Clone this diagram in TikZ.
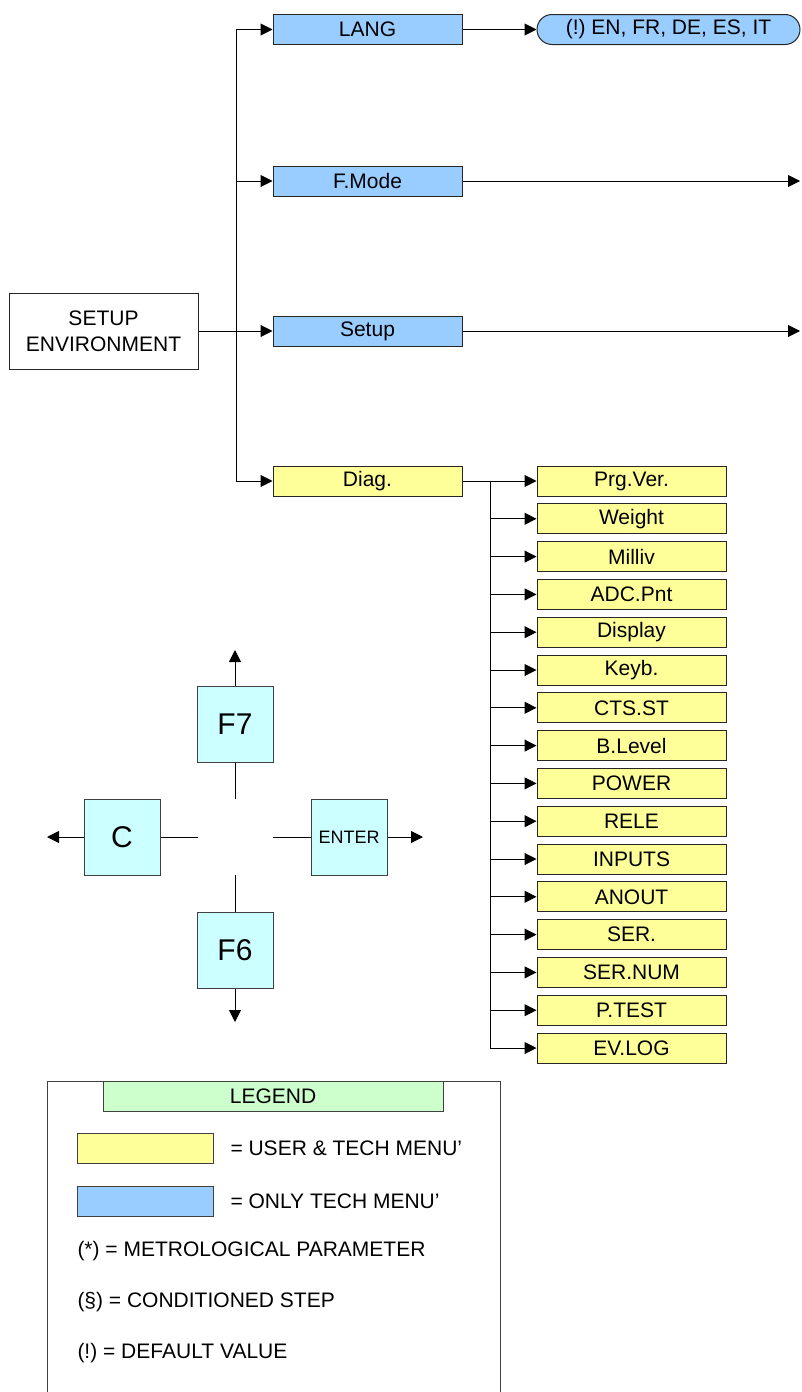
\documentclass[tikz,border=0pt]{standalone}
\usepackage{fontspec}
\setmainfont{Liberation Sans}
\usetikzlibrary{arrows.meta,shapes.misc}
\frenchspacing

\definecolor{techblue}{RGB}{153,204,255}
\definecolor{useryellow}{RGB}{255,255,153}
\definecolor{keycyan}{RGB}{204,255,255}
\definecolor{legendgreen}{RGB}{204,255,204}

\begin{document}
\begin{tikzpicture}[x=0.5pt,y=0.5pt,yscale=-1,xscale=1,
  line width=0.5pt,
  menubox/.style={draw=black!85, minimum width=94.5pt, minimum height=15pt, inner sep=0pt, font=\fontsize{10.5}{12.8}\selectfont},
  techbox/.style={menubox, fill=techblue},
  userbox/.style={menubox, fill=useryellow},
  keybox/.style={draw=black!75, fill=keycyan, minimum size=38pt, inner sep=0pt, font=\fontsize{15}{18}\selectfont},
  legtext/.style={anchor=west, inner sep=0pt, font=\fontsize{10.5}{12.8}\selectfont},
  arr/.style={-{Triangle[length=6pt,width=6pt]}}]
\useasboundingbox (0,0) rectangle (802,1392);

%Shape: Rectangle
\node [draw=black!85, align=center, minimum width=94.5pt, minimum height=38pt, inner sep=0pt, font=\fontsize{10.5}{12.8}\selectfont] (env) at (103.5,331) {SETUP\\ENVIRONMENT};

%Shape: Rectangle
\node [techbox] (lang) at (367.5,29.5) {LANG};
\node [techbox] (fmode) at (367.5,181) {F.Mode};
\node [techbox] (setup) at (367.5,331) {Setup};
\node [userbox] (diag) at (367.5,481) {Diag.};

%Shape: Rounded Rectangle
\node [rounded rectangle, draw=black!85, fill=techblue, minimum width=131.5pt, minimum height=15pt, inner sep=0pt, font=\fontsize{10.5}{12.8}\selectfont] (langval) at (668.5,29.5) {(!) EN, FR, DE, ES, IT};

\coordinate (jtop) at (236,29.5);
\coordinate (jbot) at (236,481);
\coordinate (fmodeout) at (800,181);
\coordinate (setupout) at (800,331);

%Straight Lines
\draw (jtop) -- (jbot);
\draw [arr] (jtop) -- (lang.west);
\draw [arr] (fmode.west -| jtop) -- (fmode.west);
\draw [arr] (env.east) -- (setup.west);
\draw [arr] (jbot) -- (diag.west);
\draw [arr] (lang.east) -- (langval.west);
\draw [arr] (fmode.east) -- (fmodeout);
\draw [arr] (setup.east) -- (setupout);

% Diag. submenu
\coordinate (dsplit) at (490,481);
\draw (diag.east) -- (dsplit);
\foreach \name [count=\i] in {Prg.Ver., Weight, Milliv, ADC.Pnt, Display, Keyb., CTS.ST, B.Level, POWER, RELE, INPUTS, ANOUT, SER., SER.NUM, P.TEST, EV.LOG}
{
  \node [userbox] (d\i) at (631.5,{481+(\i-1)*37.8}) {\name};
  \draw [arr] (d\i.west -| dsplit) -- (d\i.west);
}
\draw (dsplit) -- (dsplit |- d16.west);

% Keys
\node [keybox] (f7) at (235,724) {F7};
\node [keybox] (ckey) at (122,837) {C};
\node [keybox, font=\fontsize{9}{11}\selectfont] (enter) at (349,837) {ENTER};
\node [keybox] (f6) at (235,950) {F6};

\coordinate (gapn) at (235,799);
\coordinate (gaps) at (235,875);
\coordinate (gapw) at (198,837);
\coordinate (gape) at (273,837);
\coordinate (upend) at (235,650);
\coordinate (downend) at (235,1022);
\coordinate (leftend) at (47,837);
\coordinate (rightend) at (423,837);

%Straight Lines
\draw (f7.south) -- (gapn);
\draw (f6.north) -- (gaps);
\draw (ckey.east) -- (gapw);
\draw (enter.west) -- (gape);
\draw [arr] (f7.north) -- (upend);
\draw [arr] (f6.south) -- (downend);
\draw [arr] (ckey.west) -- (leftend);
\draw [arr] (enter.east) -- (rightend);

% Legend
\draw [black!75] (47,1392) -- (47,1081) -- (500,1081) -- (500,1392);
\node [draw=black!75, fill=legendgreen, minimum width=170pt, minimum height=15pt, inner sep=0pt, font=\fontsize{10.5}{12.8}\selectfont] (legtitle) at (273,1096) {LEGEND};
\node [draw=black!75, fill=useryellow, minimum width=68pt, minimum height=15pt, inner sep=0pt] (legyellow) at (145,1148) {};
\node [draw=black!75, fill=techblue, minimum width=68pt, minimum height=15pt, inner sep=0pt] (legblue) at (145,1201) {};

% Text Node
\node [legtext] (legusr) at (230,1148) {= USER \& TECH MENU'};
% Text Node
\node [legtext] (legtech) at (230,1201) {= ONLY TECH MENU'};
% Text Node
\node [legtext] (legmetro) at (77,1251) {(*) = METROLOGICAL PARAMETER};
% Text Node
\node [legtext] (legcond) at (77,1302) {(§) = CONDITIONED STEP};
% Text Node
\node [legtext] (legdef) at (77,1353) {(!) = DEFAULT VALUE};

\end{tikzpicture}
\end{document}
